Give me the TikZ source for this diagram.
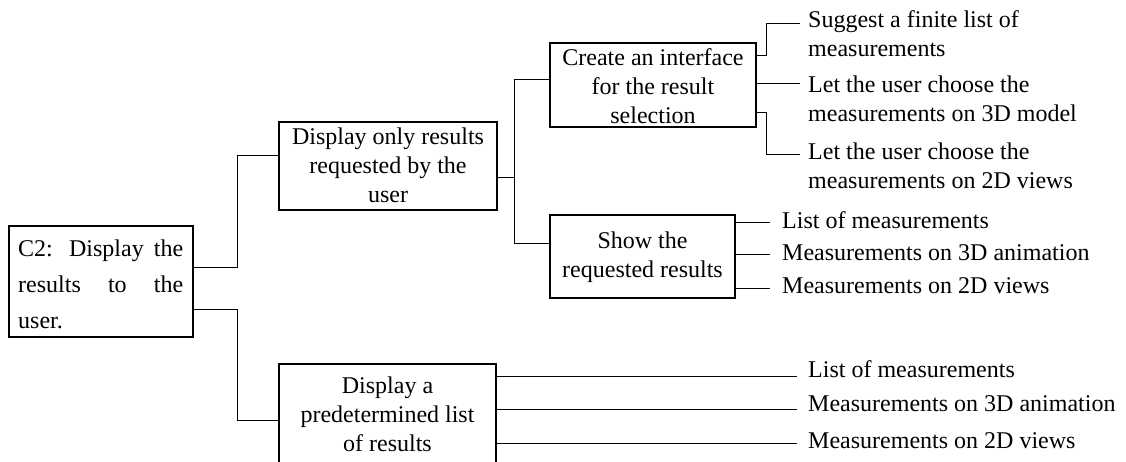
\documentclass[tikz,border=0pt]{standalone}
\usepackage{fontspec}
\setmainfont{Liberation Serif}
\begin{document}
\begin{tikzpicture}[x=1pt,y=-1pt,
  box/.style={draw, line width=1.6pt, inner sep=0pt},
  txt/.style={inner sep=0pt, font=\fontsize{24}{29}\selectfont},
  ctxt/.style={txt, align=center, anchor=north},
  ltxt/.style={txt, align=left, anchor=north west},
  conn/.style={line width=1pt}]
\useasboundingbox (0,0) rectangle (1126,461);
\clip (0,0) rectangle (1126,461);

% boxes
\node[box, minimum width=184pt, minimum height=111pt] (c2) at (101,281.5) {};
\node[inner sep=0pt, anchor=north west, text width=165pt, align=justify,
      font=\fontsize{24}{36}\selectfont] (c2t) at (18,230.8)
      {\noindent\strut C2: Display the results to the user.};

\node[box, minimum width=218pt, minimum height=88pt] (b1) at (388,166) {};
\node[ctxt] (b1t) at (388,123.7) {\strut Display only results\\requested by the\\user};

\node[box, minimum width=206pt, minimum height=84pt] (cr) at (653,85) {};
\node[ctxt] (crt) at (653,44.7) {\strut Create an interface\\for the result\\selection};

\node[box, minimum width=185pt, minimum height=83pt] (sh) at (642.5,256.5) {};
\node[ctxt] (sht) at (642.5,227.7) {\strut Show the\\requested results};

\node[box, minimum width=217pt, minimum height=136pt] (b2) at (387.5,432) {};
\node[ctxt] (b2t) at (387.5,372.7) {\strut Display a\\predetermined list\\of results};

% labels
\node[ltxt] (s1) at (808,6.7) {\strut Suggest a finite list of\\measurements};
\node[ltxt] (s2) at (808,71.7) {\strut Let the user choose the\\measurements on 3D model};
\node[ltxt] (s3) at (808,138.7) {\strut Let the user choose the\\measurements on 2D views};

\node[ltxt] (t1) at (782,207.7) {\strut List of measurements};
\node[ltxt] (t2) at (782,239.7) {\strut Measurements on 3D animation};
\node[ltxt] (t3) at (782,272.7) {\strut Measurements on 2D views};

\node[ltxt] (u1) at (808,356.7) {\strut List of measurements};
\node[ltxt] (u2) at (808,390.7) {\strut Measurements on 3D animation};
\node[ltxt] (u3) at (808,427.7) {\strut Measurements on 2D views};

% connectors
\draw[conn] ([yshift=14.5pt]c2.east) -- ++(43.5,0) |- ([yshift=11pt]b1.west);
\draw[conn] ([yshift=-27.5pt]c2.east) -- ++(43.5,0) |- ([yshift=12pt]b2.west);

\draw[conn] ([yshift=-11pt]b1.east) -- ++(17,0) |- ([yshift=6pt]cr.west);
\draw[conn] ([yshift=-11pt]b1.east) -- ++(17,0) |- ([yshift=13.5pt]sh.west);

\draw[conn] ([yshift=30pt]cr.east) -- ++(10,0) |- ([xshift=-8.5pt,yshift=-16.3pt]s1.north west);
\draw[conn] ([yshift=2pt]cr.east) -- ([xshift=-8.5pt,yshift=-11.3pt]s2.north west);
\draw[conn] ([yshift=-27pt]cr.east) -- ++(10,0) |- ([xshift=-8.5pt,yshift=-15.3pt]s3.north west);

\draw[conn] ([yshift=34.5pt]sh.east) -- ([xshift=-12pt,yshift=-14.3pt]t1.north west);
\draw[conn] ([yshift=2.5pt]sh.east) -- ([xshift=-12pt,yshift=-14.3pt]t2.north west);
\draw[conn] ([yshift=-31.5pt]sh.east) -- ([xshift=-12pt,yshift=-15.3pt]t3.north west);

\draw[conn] ([yshift=56pt]b2.east) -- ([xshift=-11pt,yshift=-19.3pt]u1.north west);
\draw[conn] ([yshift=23pt]b2.east) -- ([xshift=-11pt,yshift=-18.3pt]u2.north west);
\draw[conn] ([yshift=-11pt]b2.east) -- ([xshift=-11pt,yshift=-15.3pt]u3.north west);
\end{tikzpicture}
\end{document}
